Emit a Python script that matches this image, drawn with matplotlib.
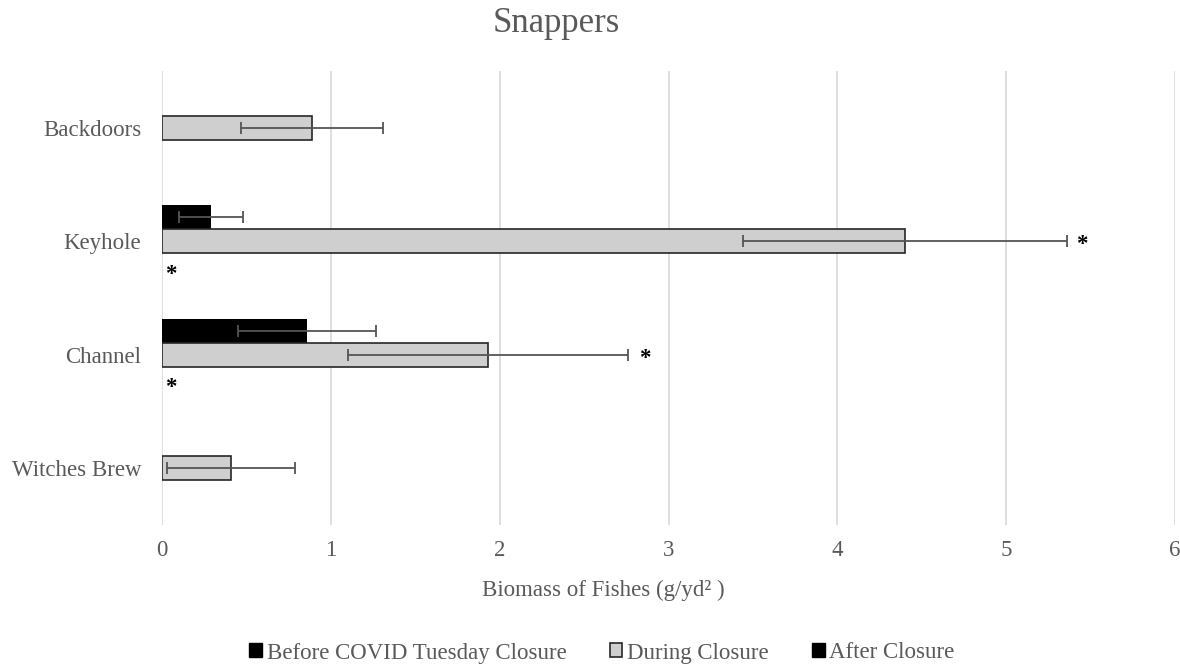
import matplotlib.pyplot as plt
import numpy as np
from matplotlib.patches import Patch

plt.rcParams['font.family'] = ['Liberation Serif', 'DejaVu Serif']

# values
sites = ["Backdoors", "Keyhole", "Channel", "Witches Brew"]
before = [0.0, 0.29, 0.86, 0.0]
before_err = [0.0, 0.19, 0.41, 0.0]
during = [0.89, 4.40, 1.93, 0.41]
during_err = [0.42, 0.96, 0.83, 0.38]
after = [0.0, 0.0, 0.0, 0.0]
# asterisk marks (x position of the "*")
during_star = [None, 5.45, 2.86, None]
after_star = [None, 0.05, 0.05, None]

txt = '#595959'
fs = 16.5

fig = plt.figure(figsize=(11.8, 6.65), dpi=100)
ax = fig.add_axes([162/1180, 1-525/665, (1175-162)/1180, (525-71)/665])

y = np.arange(len(sites))
h = 0.212

ax.barh(y - h, before, height=h, color='black', linewidth=0, zorder=3)
ax.barh(y, during, height=h, color='#d0cfcf', edgecolor='#262626', linewidth=1.2, zorder=3)
ax.barh(y + h, after, height=h, color='black', linewidth=0, zorder=3)

eb = dict(fmt='none', ecolor='#555555', elinewidth=1.3, capsize=4.5, capthick=1.3, zorder=4)
for i in range(len(sites)):
    if before_err[i] > 0:
        ax.errorbar(before[i], y[i] - h, xerr=before_err[i], **eb)
    if during_err[i] > 0:
        ax.errorbar(during[i], y[i], xerr=during_err[i], **eb)
    if during_star[i] is not None:
        ax.text(during_star[i], y[i] + 0.03, '*', ha='center', va='center', fontsize=fs,
                fontweight='bold', color='black', zorder=5)
    if after_star[i] is not None:
        ax.text(after_star[i], y[i] + h + 0.08, '*', ha='center', va='center', fontsize=fs,
                fontweight='bold', color='black', zorder=5)

ax.set_xlim(0, 6)
ax.set_ylim(len(sites) - 0.5, -0.5)
ax.set_xticks(range(7))
ax.set_yticks(y)
ax.set_yticklabels(sites)
ax.tick_params(axis='both', length=0, labelsize=fs, labelcolor=txt)
ax.tick_params(axis='y', pad=15)
ax.tick_params(axis='x', pad=11)
ax.grid(axis='x', color='#d9d9d9', linewidth=1.2, zorder=0)
ax.set_axisbelow(True)
for s in ax.spines.values():
    s.set_visible(False)

fig.text(556/1180, 1-24/665, 'Snappers', ha='center', va='center', fontsize=25, color=txt)
fig.text(603/1180, 1-590/665, 'Biomass of Fishes (g/yd\u00b2 )', ha='center', va='center', fontsize=fs, color=txt)

handles = [Patch(facecolor='black', edgecolor='black'),
           Patch(facecolor='#d0cfcf', edgecolor='#262626', linewidth=1.2),
           Patch(facecolor='black', edgecolor='black')]
labels = ['Before COVID Tuesday Closure', 'During Closure', 'After Closure']
leg = fig.legend(handles, labels, loc='center', bbox_to_anchor=(602/1180, 1-653/665), ncol=3,
                 frameon=False, fontsize=fs, handlelength=0.55, handleheight=0.55,
                 handletextpad=0.2, columnspacing=1.9)
for t in leg.get_texts():
    t.set_color(txt)

fig.savefig('out.png', dpi=100)
